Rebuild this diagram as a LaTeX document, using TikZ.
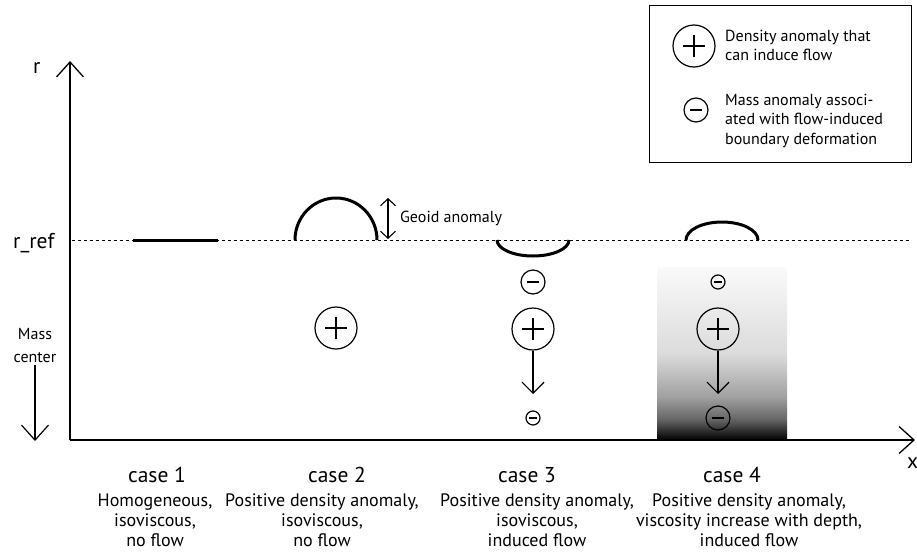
\documentclass[tikz,border=0pt]{standalone}
\usepackage{fontspec}
\setmainfont{PT Sans}
\usetikzlibrary{arrows.meta,positioning}
\newcommand{\bigfont}{\fontsize{21.5}{22}\selectfont}
\newcommand{\descfont}{\fontsize{18}{20}\selectfont}
\newcommand{\smallfont}{\fontsize{16}{19.7}\selectfont}
\pgfdeclareverticalshading{viscous}{100bp}{color(0bp)=(black); color(25bp)=(black);
  color(31bp)=(black!60); color(37.5bp)=(black!37); color(50bp)=(black!14); color(75bp)=(black!2); color(100bp)=(black!2)}

\begin{document}
\begin{tikzpicture}[
      x=1pt,y=-1pt,
      axis/.style={line width=1.3pt, -{Straight Barb[length=15pt,width=27pt]}},
      surface/.style={line width=3pt},
      refline/.style={dashed, line width=1pt},
      flow/.style={line width=1.2pt, -{Straight Barb[length=11pt,width=22pt]}},
      geoid/.style={line width=1.1pt, {Straight Barb[length=7pt,width=15pt]}-{Straight Barb[length=7pt,width=15pt]}},
      plusanom/.style={circle, draw, line width=1.2pt, minimum size=42pt, inner sep=0pt,
        path picture={\draw[line width=1.2pt]
          ([xshift=-11pt]path picture bounding box.center) -- ([xshift=11pt]path picture bounding box.center)
          ([yshift=-11pt]path picture bounding box.center) -- ([yshift=11pt]path picture bounding box.center);}},
      minusanom/.style={circle, draw, line width=1.2pt, minimum size=#1, inner sep=0pt,
        path picture={\draw[line width=1.2pt]
          ([xshift=-0.27*#1]path picture bounding box.center) -- ([xshift=0.27*#1]path picture bounding box.center);}},
      lbl/.style={font=\bigfont, inner sep=0pt},
      desc/.style={font=\descfont, align=center, inner sep=0pt, anchor=north},
      legtext/.style={font=\smallfont, align=left, inner sep=0pt, anchor=north west}
      ]
      \useasboundingbox (0,0) rectangle (917,554);

      % viscosity increase with depth (case 4)
      \shade[shading=viscous] (657,267) rectangle (787,440);

      % axes
      \coordinate (origin) at (70,440);
      \coordinate (rtop) at (70,61);
      \coordinate (xend) at (915,440);
      \draw[axis] (origin) -- (rtop);
      \draw[axis] (origin) -- (xend);
      \node[lbl, anchor=base west] (rlab) at (33,73) {r};
      \node[lbl, anchor=base west] (xlab) at (907,468) {x};
      \node[lbl, anchor=base west] (rref) at (13,248) {r\_ref};
      \node[font=\smallfont, inner sep=0pt, anchor=base] (mass1) at (35,339) {Mass};
      \node[font=\smallfont, inner sep=0pt, anchor=base] (mass2) at (35,362) {center};
      \coordinate (massend) at (35,441);
      \draw[axis, line width=1.2pt] (mass2.south) ++(0,3) -- (massend);

      % reference radius
      \coordinate (refL) at (72,240);
      \coordinate (refR) at (910,240);
      \draw[refline] (refL) -- (refR);

      % case 1
      \coordinate (s1a) at (133,240);
      \coordinate (s1b) at (218,240);
      \draw[surface] (s1a) -- (s1b);

      % case 2
      \draw[surface] (295,240) arc[start angle=180, end angle=360, x radius=41, y radius=42];
      \coordinate (g1) at (388,198);
      \coordinate (g2) at (388,239);
      \draw[geoid] (g1) -- (g2);
      \node[font=\smallfont, anchor=base west, inner sep=0pt] (geo) at (400,222) {Geoid anomaly};
      \node[plusanom] (p2) at (336,328) {};

      % case 3
      \draw[surface] (497,240) arc[start angle=180, end angle=0, x radius=36, y radius=16];
      \node[minusanom=24pt] (m3a) at (533,282) {};
      \node[plusanom] (p3) at (533,329) {};
      \coordinate (f3) at (533,394);
      \draw[flow] (p3.south) -- (f3);
      \node[minusanom=14pt] (m3b) at (533,418) {};

      % case 4
      \draw[surface] (686,240) arc[start angle=180, end angle=360, x radius=36, y radius=18];
      \node[minusanom=14pt] (m4a) at (718,282) {};
      \node[plusanom] (p4) at (718,329) {};
      \coordinate (f4) at (718,394);
      \draw[flow] (p4.south) -- (f4);
      \node[minusanom=24pt] (m4b) at (718,418) {};

      % case labels
      \node[lbl, anchor=base] (c1) at (157,482) {case 1};
      \node[desc] (d1) at (155,494) {Homogeneous,\\isoviscous,\\no flow};
      \node[lbl, anchor=base] (c2) at (337,482) {case 2};
      \node[desc] (d2) at (322,494) {Positive density anomaly,\\isoviscous,\\no flow};
      \node[lbl, anchor=base] (c3) at (527,482) {case 3};
      \node[desc] (d3) at (537,494) {Positive density anomaly,\\isoviscous,\\induced flow};
      \node[lbl, anchor=base] (c4) at (732,482) {case 4};
      \node[desc] (d4) at (749,494) {Positive density anomaly,\\viscosity increase with depth,\\induced flow};

      % legend
      \node[draw, line width=1.3pt, minimum width=262pt, minimum height=157pt, anchor=north west] (legend) at (649,5) {};
      \node[plusanom] (lp) at (694,46) {};
      \node[legtext] (lpt) at (725,29.5) {Density anomaly that\\can induce flow};
      \node[minusanom=24pt] (lm) at (696,110) {};
      \node[legtext] (lmt) at (725,93.5) {Mass anomaly associ-\\ated with flow-induced\\boundary deformation};
    \end{tikzpicture}
\end{document}
